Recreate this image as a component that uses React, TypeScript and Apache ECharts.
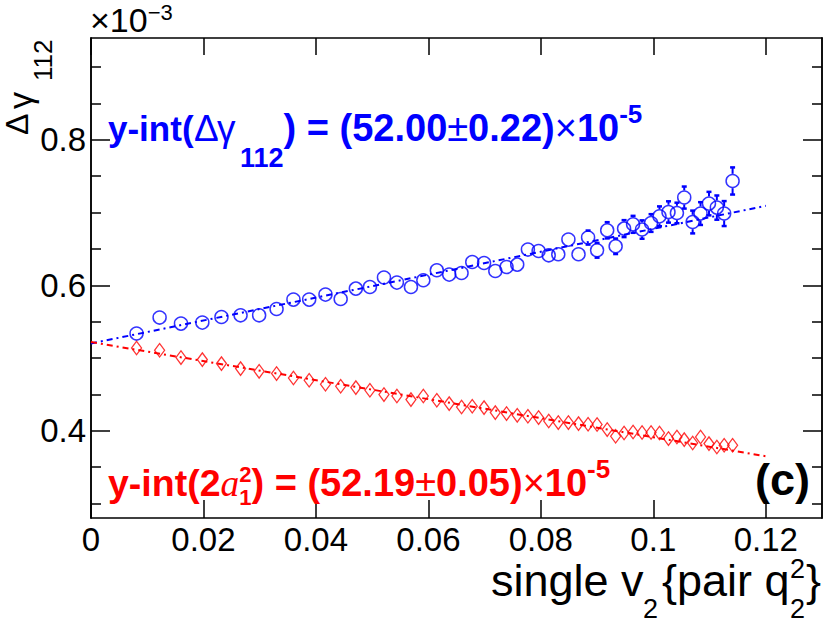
import React, { useEffect, useRef } from 'react';
import * as echarts from 'echarts';

// ---------- data (values in units of 1e-3 for y) ----------
const xTicks = [0, 0.02, 0.04, 0.06, 0.08, 0.1, 0.12];
const yMajorTicks = [0.4, 0.6, 0.8];
const yMinorTicks = [0.3, 0.35, 0.45, 0.5, 0.55, 0.65, 0.7, 0.75, 0.85, 0.9];

const xVals = [
  0.0081, 0.0122, 0.016, 0.0198, 0.0232, 0.0266, 0.0299, 0.033, 0.036, 0.0388,
  0.0417, 0.0444, 0.0471, 0.0496, 0.0521, 0.0544, 0.0569, 0.0591, 0.0615, 0.0637,
  0.0659, 0.0678, 0.0699, 0.0719, 0.0739, 0.0758, 0.0777, 0.0796, 0.0814, 0.0831,
  0.0849, 0.0867, 0.0884, 0.09, 0.0918, 0.0933, 0.0948, 0.0964, 0.098, 0.0996,
  0.1011, 0.1027, 0.1042, 0.1055, 0.107, 0.1084, 0.1099, 0.1113, 0.1126, 0.1141,
];

const blueY = [
  0.5336, 0.5556, 0.5473, 0.5487, 0.5564, 0.5587, 0.5587, 0.5674, 0.5803, 0.5803,
  0.5872, 0.5811, 0.5954, 0.5976, 0.6106, 0.6037, 0.5976, 0.6069, 0.6206, 0.6147,
  0.6169, 0.632, 0.6306, 0.6196, 0.6251, 0.6284, 0.6491, 0.6471, 0.6412, 0.6426,
  0.6628, 0.6426, 0.6656, 0.6481, 0.6756, 0.6536, 0.6779, 0.6838, 0.6766, 0.6856,
  0.6948, 0.7008, 0.6994, 0.7206, 0.687, 0.6986, 0.7123, 0.7068, 0.6986, 0.7434,
];

const blueErr = [
  0.004, 0.004, 0.004, 0.004, 0.004, 0.0045, 0.0045, 0.0045, 0.005, 0.005,
  0.005, 0.0055, 0.0055, 0.0055, 0.006, 0.006, 0.006, 0.0065, 0.0065, 0.0065,
  0.007, 0.007, 0.007, 0.0075, 0.0075, 0.0075, 0.008, 0.008, 0.008, 0.0085,
  0.0095, 0.0095, 0.01, 0.0105, 0.0115, 0.011, 0.012, 0.012, 0.013, 0.0125,
  0.014, 0.015, 0.0145, 0.0155, 0.016, 0.016, 0.0165, 0.017, 0.0175, 0.019,
];

const redY = [
  0.5138, 0.5106, 0.5006, 0.4978, 0.4923, 0.4854, 0.4817, 0.4786, 0.4725, 0.4694,
  0.4639, 0.4611, 0.4593, 0.4556, 0.4497, 0.4478, 0.4428, 0.4478, 0.4419, 0.4373,
  0.4326, 0.4336, 0.4318, 0.4249, 0.4236, 0.4212, 0.4199, 0.4181, 0.4134, 0.4112,
  0.4112, 0.4098, 0.4089, 0.4085, 0.4016, 0.3924, 0.3969, 0.3983, 0.3975, 0.3975,
  0.3969, 0.3892, 0.3914, 0.3878, 0.3831, 0.3914, 0.3823, 0.3776, 0.38, 0.38,
];

const fitX = [0, 0.12];
const blueFit = [0.52, 0.7092];
const redFit = [0.5219, 0.3649];

// ---------- styling ----------
const BLUE = '#0000ff';
const RED = '#ff0000';
const BLACK = '#000000';
const SANS = '"Liberation Sans", Arial, Helvetica, sans-serif';
const SERIF = '"Liberation Serif", "Times New Roman", serif';

type Run = {
  t: string;
  size: number;
  cy: number;
  bold?: boolean;
  italic?: boolean;
  serif?: boolean;
  x?: number;
  hold?: boolean;
};

function buildRuns(runs: Run[], x0: number, color: string) {
  const ctx = document.createElement('canvas').getContext('2d') as CanvasRenderingContext2D;
  let x = x0;
  const els: any[] = [];
  for (const r of runs) {
    if (r.x !== undefined) x = r.x;
    const family = r.serif ? SERIF : SANS;
    ctx.font = `${r.italic ? 'italic ' : ''}${r.bold ? 'bold ' : ''}${r.size}px ${family}`;
    const w = ctx.measureText(r.t).width;
    els.push({
      type: 'text',
      x,
      y: r.cy,
      silent: true,
      z: 100,
      style: {
        text: r.t,
        fill: color,
        fontSize: r.size,
        fontWeight: r.bold ? 'bold' : 'normal',
        fontStyle: r.italic ? 'italic' : 'normal',
        fontFamily: family,
        align: 'left',
        verticalAlign: 'middle',
      },
    });
    if (!r.hold) x += w;
  }
  return els;
}

function rotText(text: string, x: number, y: number, size: number) {
  return {
    type: 'text',
    x,
    y,
    rotation: Math.PI / 2,
    silent: true,
    z: 100,
    style: {
      text,
      fill: BLACK,
      fontSize: size,
      fontFamily: SANS,
      align: 'left',
      verticalAlign: 'middle',
    },
  };
}

const fmt = (v: number) => String(+Number(v).toFixed(3));

export default function App() {
  const ref = useRef<HTMLDivElement>(null);

  useEffect(() => {
    if (!ref.current) return;
    const chart = echarts.init(ref.current, undefined, { renderer: 'svg' });

    const lineSt = { color: BLACK, width: 1.5 };

    const blueRuns: Run[] = [
      { t: 'y-int(', size: 35, bold: true, cy: 128 },
      { t: 'Δ', size: 37, cy: 128, x: 194 },
      { t: 'γ', size: 37, cy: 128, x: 217 },
      { t: '112', size: 27, bold: true, cy: 158, x: 240 },
      { t: ') = (52.00', size: 38, bold: true, cy: 128 },
      { t: '±', size: 38, cy: 128 },
      { t: '0.22)', size: 38, bold: true, cy: 128 },
      { t: '×', size: 38, cy: 128 },
      { t: '10', size: 38, bold: true, cy: 128 },
      { t: '-5', size: 26, bold: true, cy: 114 },
    ];
    const redRuns: Run[] = [
      { t: 'y-int(2', size: 37.5, bold: true, cy: 483 },
      { t: 'a', size: 37.5, italic: true, serif: true, cy: 483 },
      { t: '2', size: 22, bold: true, cy: 474, hold: true },
      { t: '1', size: 22, bold: true, cy: 497 },
      { t: ') = (52.19', size: 38, bold: true, cy: 483 },
      { t: '±', size: 38, cy: 483 },
      { t: '0.05)', size: 38, bold: true, cy: 483 },
      { t: '×', size: 38, cy: 483 },
      { t: '10', size: 38, bold: true, cy: 483 },
      { t: '-5', size: 26, bold: true, cy: 469 },
    ];
    const expRuns: Run[] = [
      { t: '×10', size: 34, cy: 20 },
      { t: '−3', size: 22, cy: 12 },
    ];
    const xTitleRuns: Run[] = [
      { t: 'single v', size: 45, cy: 580, x: 491 },
      { t: '2', size: 27, cy: 609, x: 643 },
      { t: '{pair q', size: 45, cy: 580, x: 662 },
      { t: '2', size: 27, cy: 569, x: 790, hold: true },
      { t: '2', size: 27, cy: 609 },
      { t: '}', size: 45, cy: 580, x: 806 },
    ];

    const graphicEls: any[] = [
      ...buildRuns(blueRuns, 108, BLUE),
      ...buildRuns(redRuns, 108, RED),
      ...buildRuns(expRuns, 90, BLACK),
      ...buildRuns(xTitleRuns, 491, BLACK),
      {
        type: 'text',
        x: 810,
        y: 479,
        silent: true,
        z: 100,
        style: {
          text: '(c)',
          fill: BLACK,
          fontSize: 45,
          fontWeight: 'bold',
          fontFamily: SANS,
          align: 'right',
          verticalAlign: 'middle',
        },
      },
      rotText('Δ', 17, 135, 32),
      rotText('γ', 20, 109, 34),
      rotText('112', 42.5, 81, 26),
    ];

    const xAxisBase = {
      type: 'value',
      min: 0,
      max: 0.13,
      axisLine: { show: true, onZero: false, lineStyle: lineSt },
      splitLine: { show: false },
      minorTick: { show: false },
    };
    const yAxisBase = {
      type: 'value',
      min: 0.28,
      max: 0.94,
      axisLine: { show: true, onZero: false, lineStyle: lineSt },
      splitLine: { show: false },
      minorTick: { show: false },
    };
    const labelStyle = {
      fontSize: 33,
      fontFamily: SANS,
      color: BLACK,
      margin: 5,
      formatter: fmt,
    };

    const option: any = {
      animation: false,
      backgroundColor: '#ffffff',
      grid: { left: 91, right: 8, top: 38, bottom: 106, containLabel: false, outerBoundsMode: 'none' },
      xAxis: [
        {
          ...xAxisBase,
          position: 'bottom',
          axisTick: { show: true, inside: true, length: 18, customValues: xTicks, lineStyle: lineSt },
          axisLabel: { ...labelStyle, customValues: xTicks },
        },
        {
          ...xAxisBase,
          position: 'top',
          axisTick: { show: true, inside: true, length: 17, customValues: xTicks, lineStyle: lineSt },
          axisLabel: { show: false },
        },
      ],
      yAxis: [
        {
          ...yAxisBase,
          position: 'left',
          axisTick: { show: true, inside: true, length: 19, customValues: yMajorTicks, lineStyle: lineSt },
          axisLabel: { ...labelStyle, customValues: yMajorTicks },
        },
        {
          ...yAxisBase,
          position: 'left',
          axisTick: { show: true, inside: true, length: 10, customValues: yMinorTicks, lineStyle: lineSt },
          axisLabel: { show: false },
        },
        {
          ...yAxisBase,
          position: 'right',
          axisTick: { show: true, inside: true, length: 19, customValues: yMajorTicks, lineStyle: lineSt },
          axisLabel: { show: false },
        },
        {
          ...yAxisBase,
          position: 'right',
          axisTick: { show: true, inside: true, length: 10, customValues: yMinorTicks, lineStyle: lineSt },
          axisLabel: { show: false },
        },
      ],
      graphic: { elements: graphicEls },
      series: [
        {
          type: 'line',
          xAxisIndex: 0,
          yAxisIndex: 0,
          data: fitX.map((x, i) => [x, blueFit[i]]),
          symbol: 'none',
          silent: true,
          z: 1,
          lineStyle: { color: BLUE, width: 2, type: [6, 4, 2, 4] },
        },
        {
          type: 'line',
          xAxisIndex: 0,
          yAxisIndex: 0,
          data: fitX.map((x, i) => [x, redFit[i]]),
          symbol: 'none',
          silent: true,
          z: 1,
          lineStyle: { color: RED, width: 2, type: [6, 4, 2, 4] },
        },
        {
          type: 'custom',
          xAxisIndex: 0,
          yAxisIndex: 0,
          silent: true,
          z: 3,
          data: xVals.map((x, i) => [x, blueY[i], blueErr[i]]),
          encode: { x: 0, y: 1 },
          renderItem: (params: any, api: any) => {
            const x = api.value(0);
            const y = api.value(1);
            const e = api.value(2);
            const c = api.coord([x, y]);
            const hi = api.coord([x, y + e])[1];
            const lo = api.coord([x, y - e])[1];
            const r = 7.2;
            const children: any[] = [];
            const st = { stroke: BLUE, lineWidth: 2 };
            if (c[1] - hi > r) {
              children.push({ type: 'line', shape: { x1: c[0], y1: hi, x2: c[0], y2: c[1] - r }, style: st });
              children.push({ type: 'rect', shape: { x: c[0] - 2.5, y: hi - 1, width: 5, height: 2.5 }, style: { fill: BLUE } });
            }
            if (lo - c[1] > r) {
              children.push({ type: 'line', shape: { x1: c[0], y1: c[1] + r, x2: c[0], y2: lo }, style: st });
              children.push({ type: 'rect', shape: { x: c[0] - 2.5, y: lo - 1.5, width: 5, height: 2.5 }, style: { fill: BLUE } });
            }
            return { type: 'group', children };
          },
        },
        {
          type: 'scatter',
          xAxisIndex: 0,
          yAxisIndex: 0,
          silent: true,
          z: 4,
          data: xVals.map((x, i) => [x, blueY[i]]),
          symbol: 'circle',
          symbolSize: 13,
          itemStyle: { color: 'rgba(0,0,0,0)', borderColor: BLUE, borderWidth: 1.5 },
        },
        {
          type: 'scatter',
          xAxisIndex: 0,
          yAxisIndex: 0,
          silent: true,
          z: 4,
          data: xVals.map((x, i) => [x, redY[i]]),
          symbol: 'diamond',
          symbolSize: [10, 13.5],
          itemStyle: { color: 'rgba(0,0,0,0)', borderColor: RED, borderWidth: 1.3 },
        },
      ],
    };

    chart.setOption(option);
    return () => chart.dispose();
  }, []);

  return (
    <div
      ref={ref}
      style={{ position: 'absolute', left: 0, top: 0, width: 830, height: 624, background: '#fff' }}
    />
  );
}
